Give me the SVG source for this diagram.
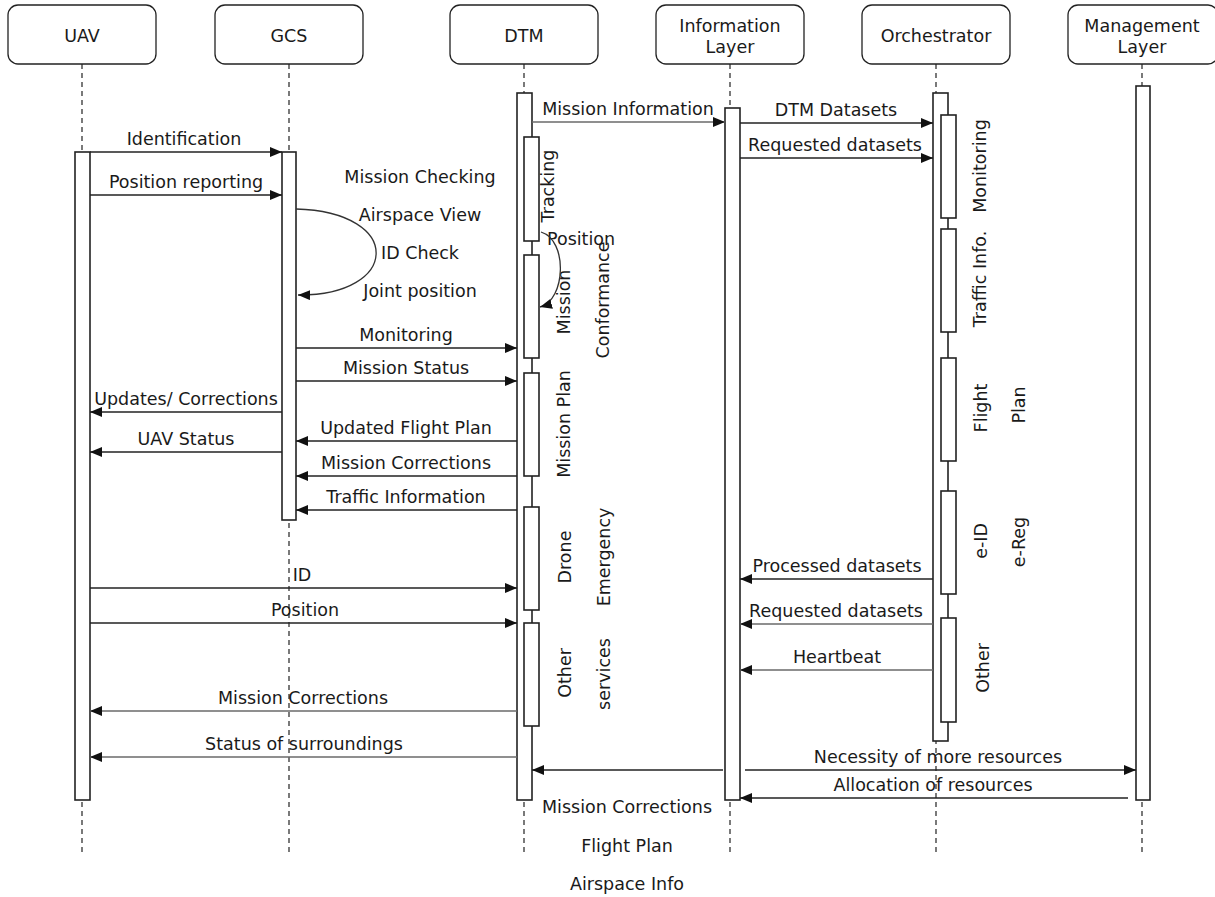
<svg xmlns="http://www.w3.org/2000/svg" width="1215" height="897" viewBox="0 0 1215 897">
  <defs>
    <marker id="arrow" viewBox="0 0 12 10" refX="12" refY="5" markerWidth="12" markerHeight="10" markerUnits="userSpaceOnUse" orient="auto">
      <path d="M0,0 L12,5 L0,10 Z" fill="#111"/>
    </marker>
    <style>
      text { font-family: "DejaVu Sans", Verdana, sans-serif; font-size: 17.5px; fill: #1a1a1a; }
      .mid { text-anchor: middle; }
      .rot { text-anchor: middle; dominant-baseline: central; }
      .head { fill: #fff; stroke: #222; stroke-width: 1.3; }
      .life { stroke: #222; stroke-width: 1.2; stroke-dasharray: 5 4; fill: none; }
      .bar { fill: #fff; stroke: #222; stroke-width: 1.6; }
      .msg { stroke: #222; stroke-width: 1.6; fill: none; marker-end: url(#arrow); }
      .grey { stroke: #6a6a6a; }
      .self { stroke: #333; stroke-width: 1.3; fill: none; marker-end: url(#arrow); }
    </style>
  </defs>
  <rect width="1215" height="897" fill="#fff"/>

  <!-- lifelines -->
  <g id="lifelines">
    <line class="life" x1="82" y1="64" x2="82" y2="856"/>
    <line class="life" x1="289" y1="64" x2="289" y2="856"/>
    <line class="life" x1="524" y1="64" x2="524" y2="856"/>
    <line class="life" x1="730" y1="64" x2="730" y2="856"/>
    <line class="life" x1="936" y1="64" x2="936" y2="856"/>
    <line class="life" x1="1142" y1="64" x2="1142" y2="856"/>
  </g>

  <!-- UAV -->
  <g id="uav">
    <rect class="head" x="8" y="5" width="148" height="59" rx="10"/>
    <text class="mid" x="82" y="42">UAV</text>
    <rect class="bar" x="75" y="152" width="15" height="648"/>
  </g>

  <!-- GCS -->
  <g id="gcs">
    <rect class="head" x="215" y="5" width="148" height="59" rx="10"/>
    <text class="mid" x="289" y="42">GCS</text>
    <rect class="bar" x="282" y="152" width="14" height="368"/>
    <text class="mid" x="420" y="183">Mission Checking</text>
    <text class="mid" x="420" y="221">Airspace View</text>
    <text class="mid" x="420" y="259">ID Check</text>
    <text class="mid" x="420" y="297">Joint position</text>
  </g>

  <!-- DTM -->
  <g id="dtm">
    <rect class="head" x="450" y="5" width="148" height="59" rx="10"/>
    <text class="mid" x="524" y="42">DTM</text>
    <rect class="bar" x="517" y="93" width="15" height="707"/>
    <rect class="bar" x="524" y="137" width="15" height="104"/>
    <rect class="bar" x="524" y="255" width="15" height="103"/>
    <rect class="bar" x="524" y="373" width="15" height="103"/>
    <rect class="bar" x="524" y="507" width="15" height="103"/>
    <rect class="bar" x="524" y="623" width="15" height="103"/>
    <text class="rot" transform="translate(548,186) rotate(-90)">Tracking</text>
    <text x="547" y="245">Position</text>
    <text class="rot" transform="translate(564,302) rotate(-90)">Mission</text>
    <text class="rot" transform="translate(603,300) rotate(-90)">Conformance</text>
    <text class="rot" transform="translate(564,424) rotate(-90)">Mission Plan</text>
    <text class="rot" transform="translate(565,557) rotate(-90)">Drone</text>
    <text class="rot" transform="translate(604,557) rotate(-90)">Emergency</text>
    <text class="rot" transform="translate(565,673) rotate(-90)">Other</text>
    <text class="rot" transform="translate(604,674) rotate(-90)">services</text>
    <text class="mid" x="627" y="813">Mission Corrections</text>
    <text class="mid" x="627" y="852">Flight Plan</text>
    <text class="mid" x="627" y="890">Airspace Info</text>
  </g>

  <!-- Information Layer -->
  <g id="information-layer">
    <rect class="head" x="656" y="5" width="148" height="59" rx="10"/>
    <text class="mid" x="730" y="32">Information</text>
    <text class="mid" x="730" y="53">Layer</text>
    <rect class="bar" x="725" y="108" width="15" height="692"/>
  </g>

  <!-- Orchestrator -->
  <g id="orchestrator">
    <rect class="head" x="862" y="5" width="148" height="59" rx="10"/>
    <text class="mid" x="936" y="42">Orchestrator</text>
    <rect class="bar" x="933" y="93" width="15" height="648"/>
    <rect class="bar" x="941" y="115" width="15" height="103"/>
    <rect class="bar" x="941" y="229" width="15" height="103"/>
    <rect class="bar" x="941" y="358" width="15" height="103"/>
    <rect class="bar" x="941" y="491" width="15" height="103"/>
    <rect class="bar" x="941" y="618" width="15" height="104"/>
    <text class="rot" transform="translate(980,166) rotate(-90)">Monitoring</text>
    <text class="rot" transform="translate(980,279) rotate(-90)">Traffic Info.</text>
    <text class="rot" transform="translate(981,408) rotate(-90)">Flight</text>
    <text class="rot" transform="translate(1019,405) rotate(-90)">Plan</text>
    <text class="rot" transform="translate(981,541) rotate(-90)">e-ID</text>
    <text class="rot" transform="translate(1019,542) rotate(-90)">e-Reg</text>
    <text class="rot" transform="translate(983,668) rotate(-90)">Other</text>
  </g>

  <!-- Management Layer -->
  <g id="management-layer">
    <rect class="head" x="1068" y="5" width="150" height="59" rx="10"/>
    <text class="mid" x="1142" y="32">Management</text>
    <text class="mid" x="1142" y="53">Layer</text>
    <rect class="bar" x="1136" y="86" width="14" height="714"/>
  </g>

  <!-- messages -->
  <g id="connectors">
    <line class="msg" x1="90" y1="152" x2="282" y2="152"/>
    <text class="mid" x="184" y="145">Identification</text>
    <line class="msg" x1="90" y1="195" x2="282" y2="195"/>
    <text class="mid" x="186" y="188">Position reporting</text>

    <path class="self" d="M296,209 C405,212 400,296 298,295"/>
    <path class="self" d="M541,232 C568,240 566,300 540,307"/>

    <line class="msg grey" x1="532" y1="122" x2="725" y2="122"/>
    <text class="mid" x="628" y="115">Mission Information</text>
    <line class="msg" x1="740" y1="123" x2="933" y2="123"/>
    <text class="mid" x="836" y="116">DTM Datasets</text>
    <line class="msg" x1="740" y1="158" x2="933" y2="158"/>
    <text class="mid" x="835" y="151">Requested datasets</text>

    <line class="msg" x1="296" y1="348" x2="517" y2="348"/>
    <text class="mid" x="406" y="341">Monitoring</text>
    <line class="msg" x1="296" y1="381" x2="517" y2="381"/>
    <text class="mid" x="406" y="374">Mission Status</text>

    <line class="msg" x1="282" y1="412" x2="90" y2="412"/>
    <text class="mid" x="186" y="405">Updates/ Corrections</text>
    <line class="msg" x1="282" y1="452" x2="90" y2="452"/>
    <text class="mid" x="186" y="445">UAV Status</text>

    <line class="msg" x1="517" y1="441" x2="296" y2="441"/>
    <text class="mid" x="406" y="434">Updated Flight Plan</text>
    <line class="msg" x1="517" y1="476" x2="296" y2="476"/>
    <text class="mid" x="406" y="469">Mission Corrections</text>
    <line class="msg" x1="517" y1="510" x2="296" y2="510"/>
    <text class="mid" x="406" y="503">Traffic Information</text>

    <line class="msg" x1="90" y1="588" x2="517" y2="588"/>
    <text class="mid" x="302" y="581">ID</text>
    <line class="msg" x1="90" y1="623" x2="517" y2="623"/>
    <text class="mid" x="305" y="616">Position</text>
    <line class="msg grey" x1="517" y1="711" x2="90" y2="711"/>
    <text class="mid" x="303" y="704">Mission Corrections</text>
    <line class="msg grey" x1="517" y1="757" x2="90" y2="757"/>
    <text class="mid" x="304" y="750">Status of surroundings</text>

    <line class="msg" x1="933" y1="579" x2="740" y2="579"/>
    <text class="mid" x="837" y="572">Processed datasets</text>
    <line class="msg grey" x1="933" y1="624" x2="740" y2="624"/>
    <text class="mid" x="836" y="617">Requested datasets</text>
    <line class="msg grey" x1="933" y1="670" x2="740" y2="670"/>
    <text class="mid" x="837" y="663">Heartbeat</text>

    <line class="msg" x1="723" y1="770" x2="532" y2="770"/>
    <line class="msg" x1="745" y1="770" x2="1136" y2="770"/>
    <text class="mid" x="938" y="763">Necessity of more resources</text>
    <line class="msg" x1="1128" y1="798" x2="740" y2="798"/>
    <text class="mid" x="933" y="791">Allocation of resources</text>
  </g>
</svg>
